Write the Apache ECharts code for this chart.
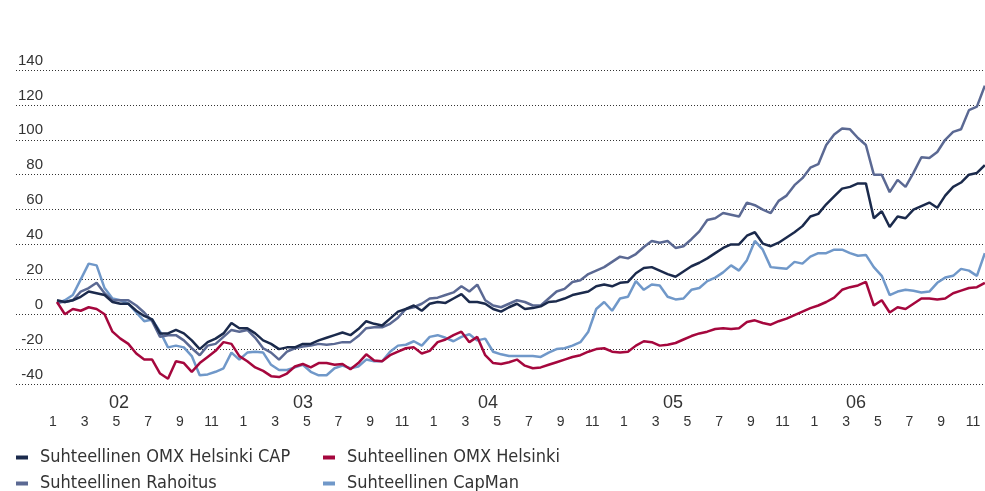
<!DOCTYPE html>
<html>
<head>
<meta charset="utf-8">
<script src="https://cdn.jsdelivr.net/npm/echarts@6/dist/echarts.min.js"></script>
<style>
  html, body { margin: 0; padding: 0; background: #fff; }
  #main { width: 985px; height: 491px; }
</style>
</head>
<body>
<div id="main"></div>
<script>
// relative performance, %, sampled twice a month from Jan 2002 (month index 0 = Jan 02)
const omxCap = [8, 7, 8, 10, 13, 12, 11, 7, 6, 6, 2, -1, -3, -11, -11, -9, -11, -15, -20, -16,
  -14, -11, -5, -8, -8, -11, -15, -17, -20, -19, -19, -17, -17, -15, -13.5, -12, -10.5, -12, -8.5, -4,
  -5.5, -6.5, -2.5, 1.5, 3, 5, 2, 6, 7, 6.5, 9, 11.5, 7, 7, 6, 3, 1.5, 4, 6, 3,
  3.5, 4.5, 7, 7.5, 9, 11, 12, 13, 16, 17, 16, 18, 18.5, 23.5, 26.5, 27, 25, 23, 21.5, 24.5,
  27.5, 29.5, 32, 35, 38, 40, 40, 45, 47, 40.5, 39, 41, 44, 47, 50.5, 56, 57.5, 63, 67.5, 72,
  73, 75, 75, 55, 59, 50, 56, 55, 60, 62, 64, 61, 68, 73, 75.5, 80, 81, 85.5];

const omxHelsinki = [7, 0, 3, 2, 4, 3, 0, -10, -14, -17, -22.5, -26, -26, -34, -37, -27, -28, -33, -28, -24.5,
  -21, -16, -17, -24, -27, -30.5, -32.5, -35.5, -36, -34, -30, -28.5, -30.5, -28, -28, -29, -28.5, -31.5, -28, -23,
  -26.5, -27, -23.5, -21.5, -19.5, -19, -22.5, -21, -16, -14.5, -12, -10, -16, -13, -23.5, -28, -28.5, -27.5, -26, -29.5,
  -31, -30.5, -29, -27.5, -26, -24.5, -23.5, -21.5, -20, -19.5, -21.5, -22, -21.5, -18, -15.5, -16, -18, -17.5, -16.5, -14.5,
  -12.5, -11, -10, -8.5, -8, -8.5, -8, -4.5, -3.5, -5, -6, -4, -2.5, -0.5, 1.5, 3.5, 5, 7, 9.5, 14,
  15.5, 16.5, 18.5, 5, 8, 1, 4, 3, 6, 9, 9, 8.5, 9, 12, 13.5, 15, 15.5, 18];

const rahoitus = [7, 7, 8, 13, 15, 18, 12, 8, 8, 8, 5, 1, -4, -13, -12, -12, -15, -19.5, -23.5, -18,
  -17, -13, -9, -10, -9, -13.5, -19.5, -22, -26, -21.5, -19.5, -18.5, -18, -17, -17.5, -17, -16, -16, -12.5, -8,
  -7.5, -7.5, -5.5, -2, 3, 4, 6, 9, 9.5, 11, 12.5, 16, 13, 17, 8, 5, 4, 6, 8, 7,
  5, 5, 9, 13, 14.5, 18.5, 19.5, 23, 25, 27, 30, 33, 32, 34.5, 38.5, 42, 41, 42, 38, 39,
  43, 47.5, 54, 55, 58, 57, 56, 64, 62.5, 60, 58, 65, 68, 74, 78, 84, 86, 97, 103, 106.5,
  106, 101, 97, 80, 80, 70, 77, 73, 81, 90, 89.5, 93, 100, 104.5, 106, 117, 119, 131];

const capman = [6, 8, 11, 20, 29, 28, 15, 9, 8, 6, 1, -4, -3, -10, -19, -18, -19, -24, -35, -34.5,
  -33, -31, -22, -26, -22, -21.5, -22, -29, -32, -32, -30.5, -29, -33, -35, -35, -31, -29.5, -31, -30, -26,
  -27, -27, -21.5, -18, -17.5, -15.5, -18, -13, -12, -13.5, -15.5, -13, -11.5, -15, -14, -21.5, -23, -24, -24, -24,
  -24, -24.5, -22, -20, -19.5, -18, -16, -10, 3, 7, 2, 9, 10, 19, 14, 17, 16.5, 10, 8.5, 9,
  14, 15, 19, 21, 24, 28, 25, 31, 42, 37, 27, 26.5, 26, 30, 29, 33, 35, 35, 37, 37,
  35, 33.5, 34, 27, 22, 11, 13, 14, 13.5, 12.5, 13, 18, 21, 22, 26, 25, 22, 35];

const seriesNames = [
  'Suhteellinen OMX Helsinki CAP',
  'Suhteellinen OMX Helsinki',
  'Suhteellinen Rahoitus',
  'Suhteellinen CapMan'
];

// month ticks (every second month) and year labels, in month index units
const monthTicks = [0, 2, 4, 6, 8, 10, 12, 14, 16, 18, 20, 22, 24, 26, 28, 30, 32, 34, 36, 38,
  40, 42, 44, 46, 48, 50, 52, 54, 56, 58];
const yearLabels = ['02', '03', '04', '05', '06'];
const yearTicks = [4.16, 15.76, 27.43, 39.09, 50.63];

const colors = {
  cap: '#1b2a4c',
  helsinki: '#a5073d',
  rahoitus: '#5b6993',
  capman: '#7098c9'
};

const sampleMonths = omxCap.map((_, i) => 0.25 + i * 0.5);
const pairs = arr => arr.map((v, i) => [sampleMonths[i], v]);

const chart = echarts.init(document.getElementById('main'));

const axisFont = 'Liberation Sans, Arial, sans-serif';
const legendText = {
  color: '#333',
  fontSize: 18,
  fontFamily: "'Liberation Sans Narrow', 'DejaVu Sans Condensed', sans-serif",
  lineHeight: 19,
  padding: [0, 0, 0, 7]
};
const legendBase = {
  orient: 'vertical', top: 448, height: 60, padding: 0,
  icon: 'rect', itemWidth: 12, itemHeight: 4, itemGap: 7,
  textStyle: legendText
};

function line(name, data, color, z) {
  return {
    name, type: 'line', data: pairs(data), z,
    showSymbol: false, symbol: 'none',
    itemStyle: { color },
    lineStyle: { color, width: 2.5 },
    emphasis: { disabled: true }
  };
}

const option = {
  animation: false,
  grid: { left: 16, right: 0, top: 70, bottom: 107, containLabel: false },
  legend: [
    Object.assign({ data: [seriesNames[0], seriesNames[2]], left: 16 }, legendBase),
    Object.assign({ data: [seriesNames[1], seriesNames[3]], left: 323 }, legendBase)
  ],
  xAxis: [
    {
      type: 'value', min: -2.333, max: 58.76,
      axisLine: { show: false }, axisTick: { show: false }, splitLine: { show: false },
      axisLabel: {
        customValues: monthTicks,
        formatter: v => String((Math.round(v) % 12) + 1),
        margin: 31, color: '#333', fontSize: 14, fontFamily: axisFont
      }
    },
    {
      type: 'value', min: -2.333, max: 58.76, position: 'bottom',
      axisLine: { show: false }, axisTick: { show: false }, splitLine: { show: false },
      axisLabel: {
        customValues: yearTicks,
        formatter: (v, i) => yearLabels[yearTicks.indexOf(v)] ?? yearLabels[i],
        margin: 10, color: '#333', fontSize: 18, fontFamily: axisFont
      }
    }
  ],
  yAxis: {
    type: 'value', min: -40, max: 140, interval: 20,
    axisLine: { show: false }, axisTick: { show: false },
    splitLine: { lineStyle: { color: '#333', width: 1, type: [1, 2] } },
    axisLabel: {
      inside: true, align: 'right', verticalAlign: 'bottom', margin: 27,
      padding: [0, 0, 2, 0],
      color: '#333', fontSize: 15, fontFamily: axisFont
    }
  },
  series: [
    line(seriesNames[3], capman, colors.capman, 2),
    line(seriesNames[2], rahoitus, colors.rahoitus, 3),
    line(seriesNames[1], omxHelsinki, colors.helsinki, 4),
    line(seriesNames[0], omxCap, colors.cap, 5)
  ]
};

chart.setOption(option);
</script>
</body>
</html>
